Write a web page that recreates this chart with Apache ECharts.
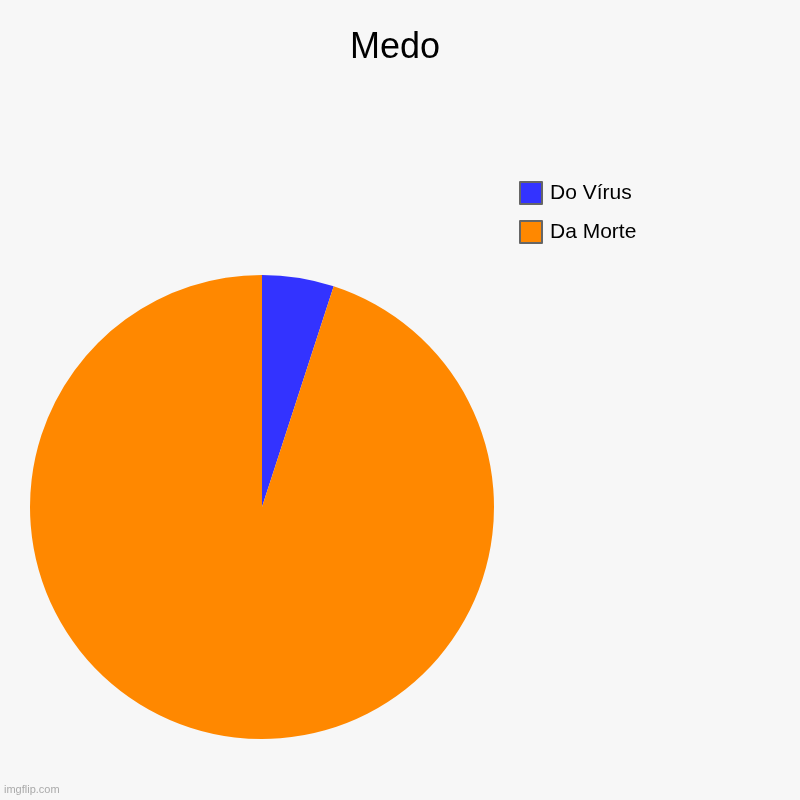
<!DOCTYPE html>
<html>
<head>
<meta charset="utf-8">
<script src="https://cdn.jsdelivr.net/npm/echarts@6/dist/echarts.min.js"></script>
<style>
html,body{margin:0;padding:0;background:#f7f7f7;}
#c{width:800px;height:800px;}
</style>
</head>
<body>
<div id="c"></div>
<script>
const categories = ['Do Vírus', 'Da Morte'];
const values = [5, 95];
const colors = ['#3333ff', '#ff8800'];

const chart = echarts.init(document.getElementById('c'));
chart.setOption({
  backgroundColor: '#f7f7f7',
  animation: false,
  title: {
    text: 'Medo',
    left: 350,
    top: 30,
    padding: 0,
    textStyle: { fontFamily: 'Liberation Sans, Arial', fontSize: 36, fontWeight: 'normal', color: '#000' }
  },
  legend: {
    orient: 'vertical',
    left: 519,
    top: 181,
    padding: 0,
    itemWidth: 22,
    itemHeight: 22,
    itemGap: 15,
    icon: 'rect',
    data: categories,
    itemStyle: { borderColor: '#666', borderWidth: 2 },
    textStyle: { fontFamily: 'Liberation Sans, Arial', fontSize: 21, color: '#000', padding: [0, 0, 0, 3] }
  },
  graphic: [{
    type: 'text',
    left: 4,
    top: 784,
    style: { text: 'imgflip.com', fontFamily: 'Liberation Sans, Arial', fontSize: 11, fill: '#aaaaaa' }
  }],
  series: [{
    type: 'pie',
    center: [262, 507],
    radius: [0, 232],
    startAngle: 90,
    clockwise: true,
    label: { show: false },
    labelLine: { show: false },
    emphasis: { disabled: true },
    itemStyle: { borderWidth: 0 },
    data: categories.map((n, i) => ({ name: n, value: values[i], itemStyle: { color: colors[i] } }))
  }]
});
</script>
</body>
</html>
